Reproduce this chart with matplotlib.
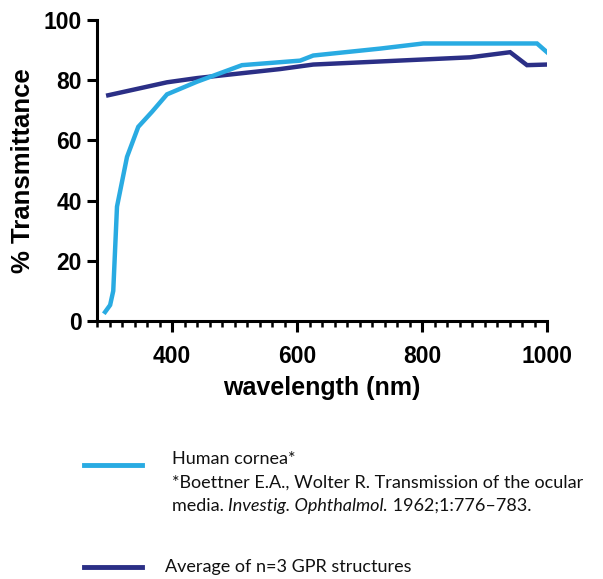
import matplotlib
matplotlib.use("Agg")
import matplotlib.pyplot as plt
from matplotlib.lines import Line2D
from matplotlib.ticker import MultipleLocator
from matplotlib.font_manager import FontProperties

# Human cornea transmittance (Boettner & Wolter, 1962)
cornea_wl = [293, 301, 306, 312, 328, 346, 368, 392, 440, 512, 605, 626, 733, 802, 984, 1000]
cornea_t = [3, 5.3, 10, 38, 54.5, 64.5, 69.5, 75.3, 79.5, 85, 86.5, 88.2, 90.5, 92.2, 92.2, 89.3]

# Average of n=3 GPR structures
gpr_wl = [298, 392, 440, 573, 626, 877, 941, 968, 1000]
gpr_t = [75, 79.3, 80.7, 83.7, 85.2, 87.6, 89.3, 85, 85.2]

x_ticks = [400, 600, 800, 1000]
y_ticks = [0, 20, 40, 60, 80, 100]

light_blue = "#29ABE2"
navy = "#2B2F86"

fig = plt.figure(figsize=(6.03, 5.79), dpi=100)
ax = fig.add_axes([97 / 603, 1 - 321 / 579, (547 - 97) / 603, (321 - 20) / 579])

ax.plot(cornea_wl, cornea_t, color=light_blue, lw=3.2, solid_joinstyle="miter", zorder=3)
ax.plot(gpr_wl, gpr_t, color=navy, lw=3.2, solid_joinstyle="miter", zorder=2)

ax.set_xlim(280, 1000)
ax.set_ylim(0, 100)
ax.set_xticks(x_ticks)
ax.set_yticks(y_ticks)
ax.xaxis.set_minor_locator(MultipleLocator(20))

for s in ["top", "right"]:
    ax.spines[s].set_visible(False)
for s in ["left", "bottom"]:
    ax.spines[s].set_linewidth(2.2)

tick_font = FontProperties(family="Liberation Sans", weight="bold", size=16.5)
ax.tick_params(axis="both", which="major", length=7, width=2.2, direction="out", pad=4)
ax.tick_params(axis="x", which="minor", length=4, width=1.8, direction="out")
ax.tick_params(axis="x", which="major", length=8, pad=9)
for lbl in ax.get_xticklabels() + ax.get_yticklabels():
    lbl.set_fontproperties(tick_font)

ax.set_xlabel("wavelength (nm)", fontfamily="Liberation Sans", fontweight="bold",
              fontsize=18, labelpad=6)
ax.set_ylabel("% Transmittance", fontfamily="Liberation Sans", fontweight="bold",
              fontsize=18.5, labelpad=6)

# Legend drawn below the axes
def px(x, y):
    return x / 603, 1 - y / 579

fig.add_artist(Line2D([84 / 603, 142 / 603], [1 - 465 / 579] * 2,
                      color=light_blue, lw=3.5, transform=fig.transFigure))
fig.add_artist(Line2D([84 / 603, 142 / 603], [1 - 567 / 579] * 2,
                      color=navy, lw=3.5, transform=fig.transFigure))

legend_font = dict(family="Lato", fontsize=13, color="#111111", va="baseline", ha="left")
fig.text(*px(172, 464), "Human cornea*", **legend_font)
fig.text(*px(172, 488), "*Boettner E.A., Wolter R. Transmission of the ocular", **legend_font)
fig.text(*px(165, 572), "Average of n=3 GPR structures", **legend_font)

# Citation line with an italic journal name, laid out piece by piece
renderer = fig.canvas.get_renderer()
x_cursor = 172
pieces = [("media. ", "normal"), ("Investig. Ophthalmol.", "italic"),
          (" 1962;1:776\u2013783.", "normal")]
for txt, style in pieces:
    t = fig.text(*px(x_cursor, 511), txt, style=style, **legend_font)
    bb = t.get_window_extent(renderer=renderer)
    x_cursor += bb.width
    if txt.endswith(" "):
        x_cursor += 0

fig.savefig("out.png", dpi=100)
